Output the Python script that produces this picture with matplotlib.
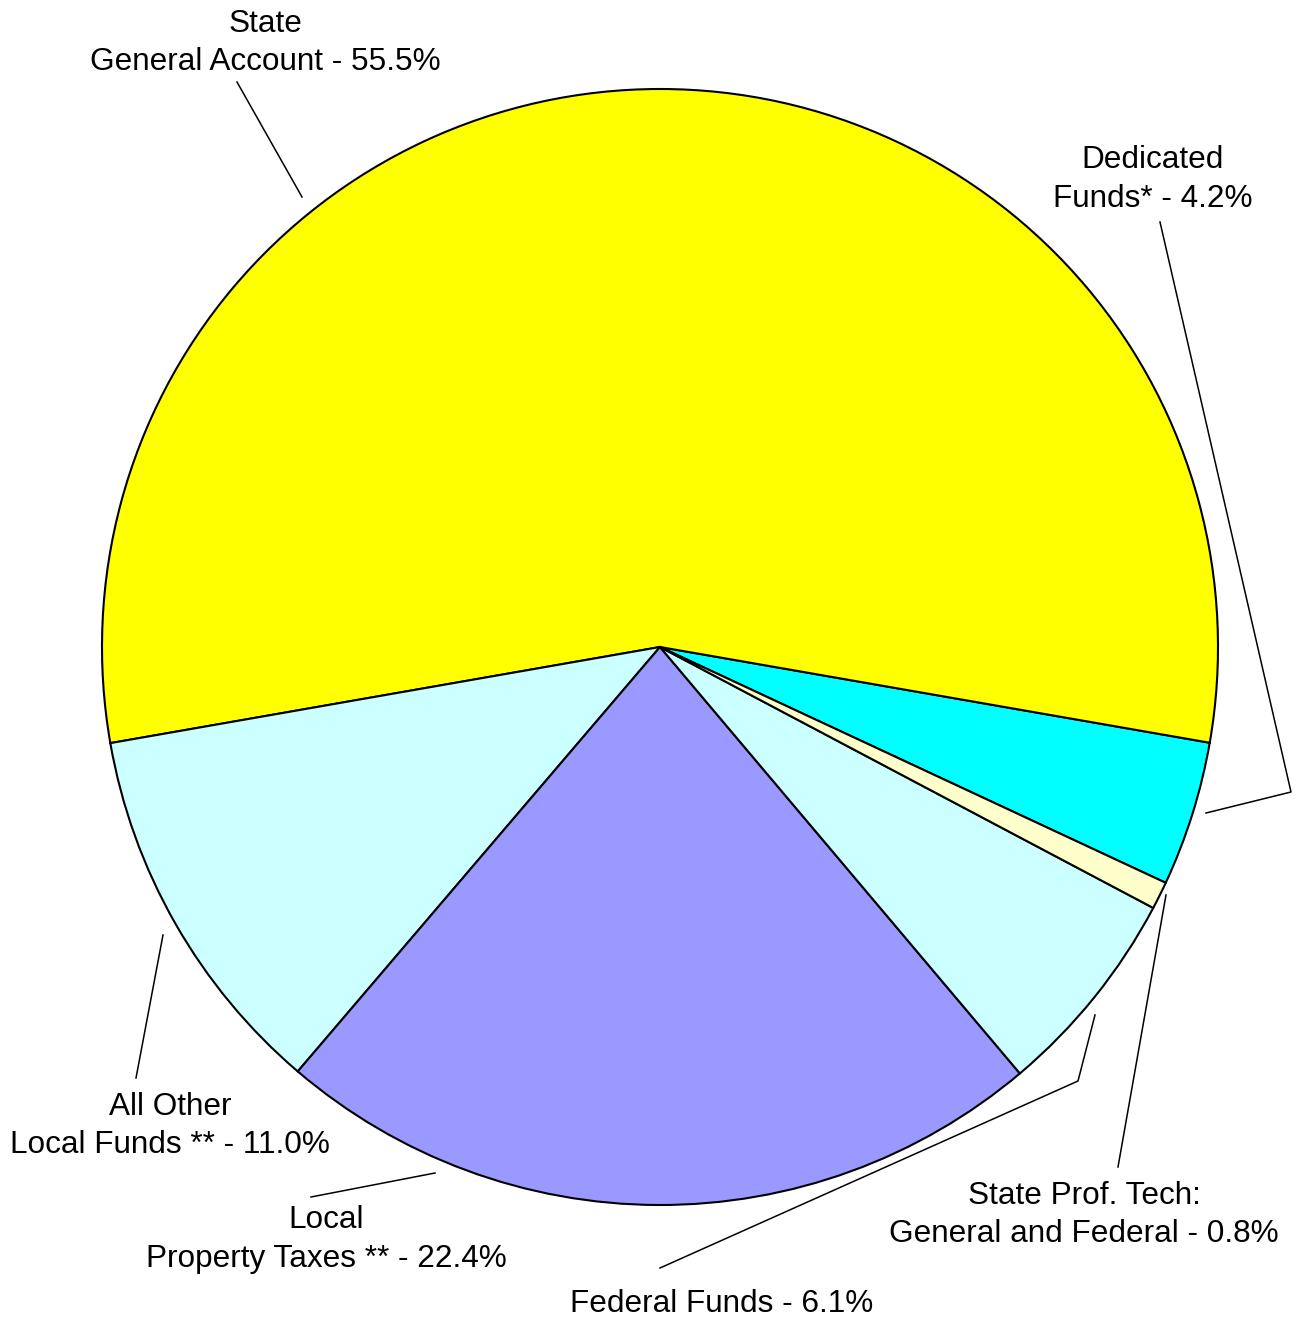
import matplotlib.pyplot as plt

# --------------------------------------------------
# Data
# --------------------------------------------------

sources = [
    "Dedicated Funds*",
    "State General Account",
    "All Other Local Funds **",
    "Local Property Taxes **",
    "Federal Funds",
    "State Prof. Tech: General and Federal",
]
shares = [4.2, 55.5, 11.0, 22.4, 6.1, 0.8]
colors = ["#00FFFF", "#FFFF00", "#CCFFFF", "#9999FF", "#CCFFFF", "#FFFFCC"]

label_lines = [
    ["Dedicated", "Funds* - 4.2%"],
    ["State", "General Account - 55.5%"],
    ["All Other", "Local Funds ** - 11.0%"],
    ["Local", "Property Taxes ** - 22.4%"],
    ["Federal Funds - 6.1%"],
    ["State Prof. Tech:", "General and Federal - 0.8%"],
]

# --------------------------------------------------
# Layout (pixel coordinates, y measured from top)
# --------------------------------------------------

W, H = 1296, 1320
CENTER = (660, 647)
RADIUS = 558

label_pos = [
    (1153, [168, 207]),
    (265, [32, 70]),
    (170, [1115, 1153]),
    (326, [1228, 1267]),
    (722, [1312]),
    (1084, [1204, 1242]),
]

leaders = [
    [(1160, 222), (1291, 792), (1206, 813)],
    [(237, 82), (302, 197)],
    [(136, 1078), (163, 935)],
    [(311, 1197), (435, 1173)],
    [(660, 1268), (1078, 1081), (1095, 1015)],
    [(1118, 1167), (1166, 895)],
]


def flip(y):
    return H - y


# --------------------------------------------------
# Chart
# --------------------------------------------------

plt.rcParams["font.family"] = ["Liberation Sans", "DejaVu Sans"]

fig = plt.figure(figsize=(W / 100, H / 100), dpi=100)
ax = fig.add_axes([0, 0, 1, 1])

ax.pie(
    shares,
    colors=colors,
    startangle=-25.0,
    counterclock=True,
    radius=RADIUS,
    center=(CENTER[0], flip(CENTER[1])),
    wedgeprops=dict(edgecolor="black", linewidth=1.5),
)

for lines, (x, ys) in zip(label_lines, label_pos):
    for text, y in zip(lines, ys):
        ax.text(x, flip(y), text, ha="center", va="baseline", fontsize=22.7, color="black")

for pts in leaders:
    ax.plot([p[0] for p in pts], [flip(p[1]) for p in pts], color="black", linewidth=1.1)

ax.set_xlim(0, W)
ax.set_ylim(0, H)
ax.set_aspect("equal")
ax.axis("off")

fig.savefig("out.png", dpi=100, facecolor="white")
plt.close(fig)
